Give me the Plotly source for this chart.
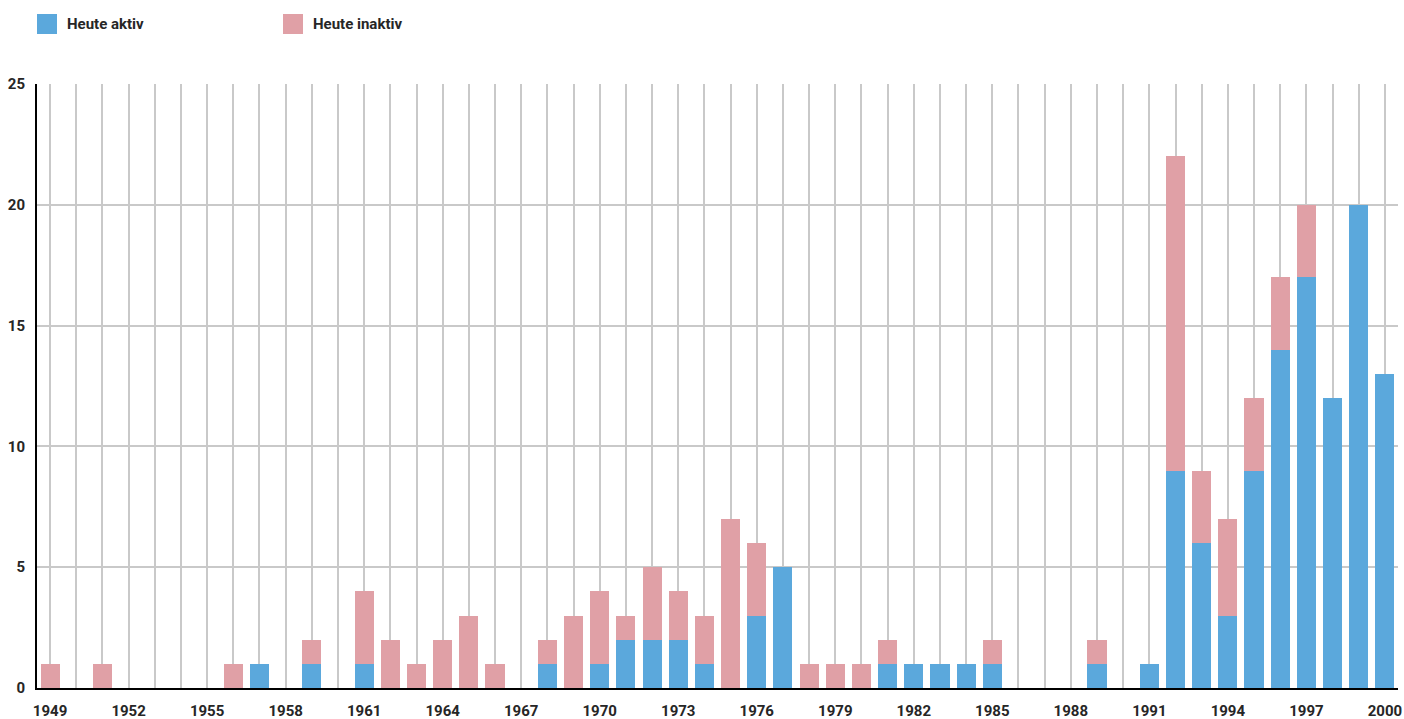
import plotly.graph_objects as go

years = list(range(1949, 2001))
aktiv = [0, 0, 0, 0, 0, 0, 0, 0, 1, 0, 1, 0, 1, 0, 0, 0, 0, 0, 0, 1, 0, 1, 2, 2, 2, 1,
         0, 3, 5, 0, 0, 0, 1, 1, 1, 1, 1, 0, 0, 0, 1, 0, 1, 9, 6, 3, 9, 14, 17, 12, 20, 13]
inaktiv = [1, 0, 1, 0, 0, 0, 0, 1, 0, 0, 1, 0, 3, 2, 1, 2, 3, 1, 0, 1, 3, 3, 1, 3, 2, 2,
           7, 3, 0, 1, 1, 1, 1, 0, 0, 0, 1, 0, 0, 0, 1, 0, 0, 13, 3, 4, 3, 3, 3, 0, 0, 0]
x_ticks = list(range(1949, 2001, 3))
y_ticks = [0, 5, 10, 15, 20, 25]
series_names = ["Heute aktiv", "Heute inaktiv"]
colors = ["#5BA8DC", "#E0A0A6"]

FONT = "Roboto, sans-serif"
TXT = "#262626"

W, H = 1404, 719
L, T, PW, PH = 37, 84, 1361, 604

fig = go.Figure()
fig.add_bar(x=years, y=aktiv, name=series_names[0], marker=dict(color=colors[0], line=dict(width=0)))
fig.add_bar(x=years, y=inaktiv, name=series_names[1], marker=dict(color=colors[1], line=dict(width=0)))

# legend drawn as shapes + text (pixel positions converted to paper coords)
leg_x = [37, 283]
for i, (nm, c) in enumerate(zip(series_names, colors)):
    fig.add_shape(type="rect", xref="paper", yref="paper",
                  x0=(leg_x[i] - L) / PW, x1=(leg_x[i] + 20 - L) / PW,
                  y0=1 + (T - 34) / PH, y1=1 + (T - 14) / PH,
                  fillcolor=c, line=dict(width=0))
    fig.add_annotation(xref="paper", yref="paper", x=(leg_x[i] + 28 - L) / PW,
                       y=1 + (T - 24) / PH, text=nm, showarrow=False,
                       xanchor="left", yanchor="middle",
                       font=dict(family=FONT, size=15, color=TXT, weight="bold"))

fig.update_layout(
    barmode="stack", bargap=0.27, showlegend=False,
    width=W, height=H,
    margin=dict(l=L, r=W - L - PW, t=T, b=H - T - PH, autoexpand=False),
    paper_bgcolor="white", plot_bgcolor="white",
    font=dict(family=FONT, color=TXT),
)
fig.update_xaxes(
    range=[1948.5, 2000.5], tickmode="array", tickvals=x_ticks,
    ticktext=[str(v) for v in x_ticks], automargin=False,
    tickfont=dict(family=FONT, size=15, color=TXT, weight="bold"),
    showgrid=True, gridcolor="#c9c9c9", gridwidth=1.5,
    minor=dict(dtick=1, tick0=1949, showgrid=True, gridcolor="#c9c9c9", gridwidth=1.5),
    showline=True, linecolor="black", linewidth=2,
    ticks="", ticklabelstandoff=8, zeroline=False, ticklabeloverflow="allow",
)
fig.update_yaxes(
    range=[0, 25], tickmode="array", tickvals=y_ticks, automargin=False,
    tickfont=dict(family=FONT, size=15, color=TXT, weight="bold"),
    showgrid=True, gridcolor="#c9c9c9", gridwidth=1.5,
    showline=True, linecolor="black", linewidth=2,
    ticks="", ticklabelstandoff=7, zeroline=False,
)
fig.write_html("out.html", config={"displayModeBar": False},
               post_script="document.body.style.margin='0';document.body.style.overflow='hidden';")
